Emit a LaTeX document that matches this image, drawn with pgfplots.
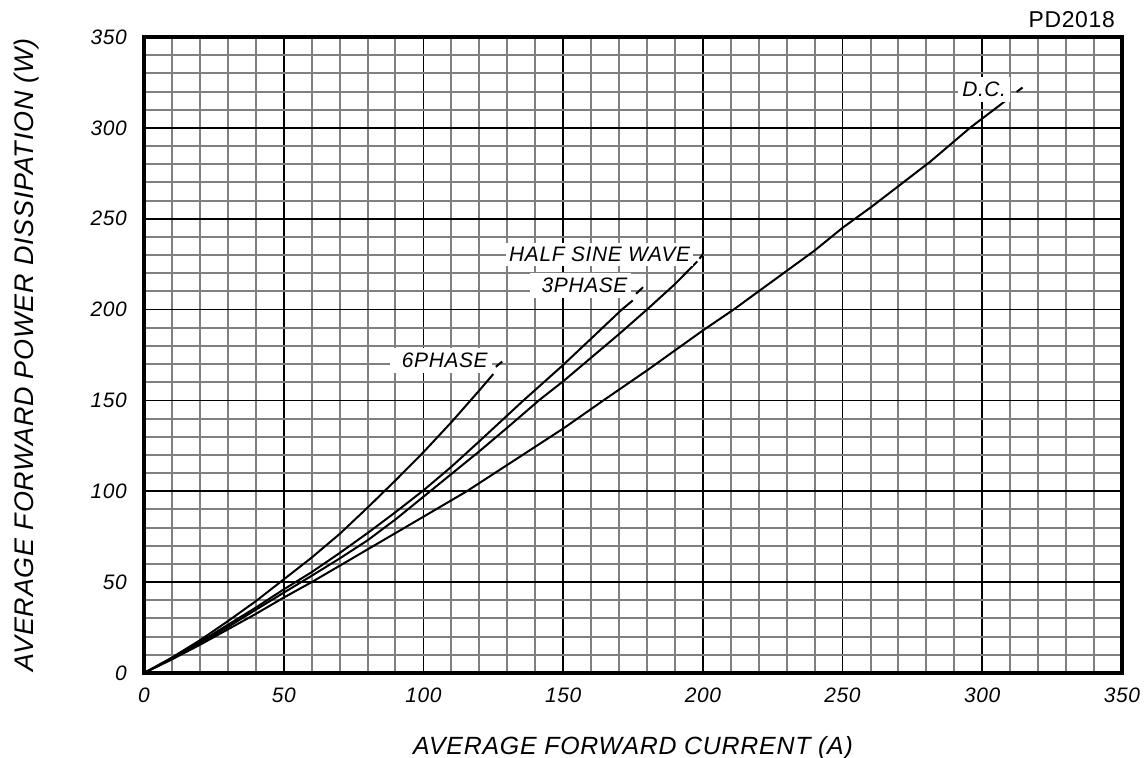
\documentclass[border=0pt]{standalone}
\usepackage{fontspec}
\setmainfont{Liberation Sans}[LetterSpace=3]
\usepackage{pgfplots}
\pgfplotsset{compat=1.18}

\definecolor{minorgray}{RGB}{128,128,128}

\newcommand{\lblfont}{\fontsize{21}{25}\selectfont\itshape}

\begin{document}
\begin{tikzpicture}
\path[use as bounding box] (-144bp,-85bp) rectangle (1002bp,673bp);
\begin{axis}[
  at={(0,0)}, anchor=south west,
  width=978bp, height=636bp, scale only axis,
  xmin=0, xmax=350, ymin=0, ymax=350,
  xtick={0,50,...,350}, ytick={0,50,...,350},
  minor tick num=4,
  grid=both,
  minor grid style={draw=minorgray, line width=2bp},
  major grid style={draw=black, line width=1.8bp},
  axis line style={line width=4bp},
  major tick length=0pt, minor tick length=0pt,
  /pgf/number format/assume math mode=true,
  tick label style={font=\lblfont, inner sep=0pt},
  xticklabel style={anchor=north, yshift=-15bp},
  yticklabel style={anchor=east, xshift=-17bp},
  xlabel={AVERAGE FORWARD CURRENT (A)},
  ylabel={AVERAGE FORWARD POWER DISSIPATION (W)},
  every axis x label/.style={at={(axis description cs:0.5,-0.1274)}, anchor=base,
    font=\fontsize{25}{30}\selectfont\itshape},
  every axis y label/.style={at={(axis description cs:-0.1125,0.5)}, rotate=90, anchor=base,
    font=\fontsize{27}{32}\selectfont\itshape},
  clip=false,
]

% D.C.
\addplot[black, line width=2bp, line join=round] coordinates {
  (0,0) (10,7.5) (20,15.5) (30,24) (40,32.5) (50,41.5) (60,50) (80,68)
  (100,86) (115.5,100) (130,114.5) (150,134.5) (164.4,150) (180,166.5)
  (200,188.5) (211,200) (240,232.5) (250,245) (260.4,256.6) (281.3,281.3)
  (295.6,300) (309.3,316)
};
\addplot[black, line width=2bp] coordinates {(312.3,319.8) (314.4,322.2)};

% HALF SINE WAVE
\addplot[black, line width=2bp, line join=round] coordinates {
  (0,0) (10,7.8) (20,16.3) (30,25.3) (40,34.8) (50,44.2) (60,53.5) (70,63)
  (80,73) (90,84.5) (100,97) (110,109.5) (120,122) (130,135) (141.7,150.5)
  (150,160.5) (160,173.5) (170,186.5) (180,200) (190,214) (198,226.5)
};
\addplot[black, line width=2bp] coordinates {(198.8,228) (200,230.5)};

% 3PHASE
\addplot[black, line width=2bp, line join=round] coordinates {
  (0,0) (10,8) (20,17) (30,26.5) (40,36) (50,46) (60,55.5) (70,66) (80,77)
  (90,88.5) (100,100.5) (110,113.5) (120,127.5) (135.8,150) (150,169.5)
  (160,184) (171,200) (174.9,205)
};
\addplot[black, line width=2bp] coordinates {(176.1,208.7) (178.6,212.3)};

% 6PHASE
\addplot[black, line width=2bp, line join=round] coordinates {
  (0,0) (10,8.5) (20,18) (30,28.5) (40,39.5) (50,51.5) (60,63.5) (70,76.5)
  (80,91) (90,106) (100,121.5) (110,138) (120,155.5) (125,164.5)
};
\addplot[black, line width=2bp] coordinates {(125.9,168.5) (128.2,171.4)};

\node[fill=white, inner xsep=4bp, inner ysep=5bp, anchor=base east, font=\lblfont]
  at (axis cs:124.5,168) {\hspace{8bp}6PHASE};
\node[fill=white, inner xsep=4bp, inner ysep=5bp, anchor=base east, font=\lblfont]
  at (axis cs:174.5,209.5) {\hspace{8bp}3PHASE};
\node[fill=white, inner xsep=3bp, inner ysep=4bp, anchor=base east, font=\lblfont]
  at (axis cs:196.6,226.4) {HALF SINE WAVE};
\node[fill=white, inner xsep=4bp, inner ysep=5bp, anchor=base east, font=\lblfont]
  at (axis cs:310,317) {D.C.};
\node[anchor=base east, inner sep=0pt, font=\fontsize{23}{27}\selectfont]
  at (axis cs:347.5,355.5) {PD2018};

\end{axis}
\end{tikzpicture}
\end{document}
